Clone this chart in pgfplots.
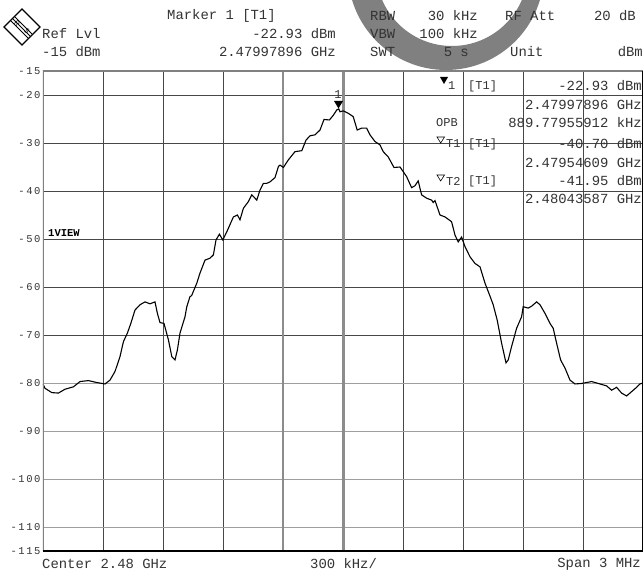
\documentclass[border=0pt]{standalone}
\usepackage{fontspec}
\setmainfont{Liberation Mono}
\newfontfamily\tickfont[LetterSpace=15]{Liberation Mono}
\usepackage{pgfplots}
\pgfplotsset{compat=1.18}
\newcommand\hdr{\fontsize{13.9}{14}\selectfont}
\newcommand\sml{\fontsize{12}{12}\selectfont}
\definecolor{txt}{gray}{0.2}

% trace: offset from 2.48 GHz in kHz, level in dBm
\pgfplotstableread{
f lvl
-1500 -80.2
-1490 -81.1
-1456 -82.0
-1423 -82.1
-1390 -81.3
-1348 -80.8
-1315 -79.7
-1273 -79.5
-1231 -79.9
-1190 -80.2
-1165 -79.4
-1140 -77.6
-1115 -74.5
-1098 -71.4
-1078 -69.6
-1061 -67.6
-1040 -64.8
-1015 -63.7
-990 -63.1
-965 -63.5
-940 -63.1
-928 -65.5
-915 -67.4
-895 -67.6
-873 -71.0
-856 -74.5
-840 -75.2
-828 -73.1
-815 -69.6
-790 -66.2
-781 -64.1
-765 -62.0
-757 -61.8
-731 -59.2
-715 -57.1
-690 -54.4
-665 -54.0
-648 -53.3
-635 -50.2
-618 -49.0
-601 -50.2
-581 -48.5
-548 -45.4
-528 -45.0
-515 -46.0
-498 -43.6
-473 -42.2
-456 -40.8
-431 -41.9
-415 -39.8
-398 -38.4
-381 -38.4
-365 -38.1
-340 -37.2
-323 -34.9
-315 -34.6
-298 -35.1
-273 -33.5
-240 -31.8
-206 -31.6
-185 -29.4
-165 -28.5
-140 -28.3
-115 -27.3
-95 -25.1
-68 -25.2
-48 -24.2
-31 -23.1
-21 -22.9
-15 -23.5
2 -23.3
26 -23.8
51 -24.5
71 -27.3
93 -26.9
118 -26.9
135 -28.3
160 -29.7
185 -30.4
201 -31.8
226 -32.9
255 -35.1
285 -35.0
318 -37.0
343 -39.3
360 -38.9
376 -37.9
393 -40.8
418 -41.5
443 -41.9
451 -42.4
460 -42.0
485 -45.0
510 -45.4
543 -46.4
560 -49.2
576 -50.6
593 -49.6
610 -51.6
635 -53.7
660 -55.1
685 -55.8
710 -59.2
735 -61.9
751 -63.7
771 -66.9
793 -71.7
815 -75.8
826 -75.2
843 -72.4
868 -68.6
893 -66.2
901 -64.1
926 -64.4
943 -64.0
968 -63.1
985 -63.7
1010 -65.5
1035 -67.6
1051 -68.6
1068 -71.7
1088 -75.2
1110 -76.9
1135 -79.4
1160 -80.2
1193 -80.1
1243 -79.7
1285 -80.2
1318 -80.6
1343 -81.5
1368 -80.9
1393 -82.1
1418 -82.7
1443 -81.8
1468 -80.9
1485 -80.2
1500 -80.0
}\trace

\begin{document}
\begin{tikzpicture}
\useasboundingbox (0,0) rectangle (643pt,574pt);
% watermark ring and header, in pixel coordinates from the top left
\begin{scope}[x=1pt,y=-1pt,shift={(0pt,574pt)}]
\fill[black!50, even odd rule] (446,-28) circle[radius=98pt] (452,-30) circle[radius=76pt];
\begin{scope}[every node/.style={inner sep=0pt, text=txt, font=\hdr}]
\node[anchor=west] at (167,16) {Marker 1 [T1]};
\node[anchor=west] at (370,16) {RBW};
\node[anchor=east] at (478,16) {30 kHz};
\node[anchor=west] at (505,16) {RF Att};
\node[anchor=east] at (636,16) {20 dB};
\node[anchor=west] at (42,34) {Ref Lvl};
\node[anchor=east] at (336,34) {-22.93 dBm};
\node[anchor=west] at (370,34) {VBW};
\node[anchor=east] at (478,34) {100 kHz};
\node[anchor=west] at (42,52) {-15 dBm};
\node[anchor=east] at (336,52) {2.47997896 GHz};
\node[anchor=west] at (370,52) {SWT};
\node[anchor=east] at (469,52) {5 s};
\node[anchor=west] at (510,52) {Unit};
\node[anchor=east] at (643,52) {dBm};
\node[anchor=west] at (42,564) {Center 2.48 GHz};
\node[anchor=west] at (310,564) {300 kHz/};
\node[anchor=east] at (641,564) {Span 3 MHz};
\end{scope}
% R&S logo
\draw[line width=1.4pt] (22,9) -- (40,27) -- (22,45) -- (4,27) -- cycle;
\draw[line width=0.9pt] (11,21) -- (28,38) (13,19) -- (30,36) (15,17) -- (32,34);
\node[inner sep=0pt, font=\sffamily\fontsize{7}{7}\selectfont, rotate=-45] at (17,23) {R};
\node[inner sep=0pt, font=\sffamily\fontsize{7}{7}\selectfont, rotate=-45] at (27,31) {S};
\end{scope}

\begin{axis}[
  at={(43pt,23pt)}, anchor=south west,
  scale only axis, width=600pt, height=480pt,
  xmin=-1500, xmax=1500, ymin=-115, ymax=-15,
  xtick={-1200,-900,...,1200}, xticklabels={},
  ytick={-115,-70,-60,-50,-40,-30,-20,-15},
  extra y ticks={-110,-100,-90,-80},
  extra y tick style={major grid style={draw=black!38, line width=0.9pt}},
  grid=major,
  major grid style={draw=black!72, line width=0.8pt},
  axis line style={draw=none},
  tick style={draw=none},
  /pgf/number format/assume math mode=true,
  yticklabel style={font=\tickfont\fontsize{10.5}{11}\selectfont, text=txt, xshift=1pt},
]
\draw[black!45, line width=1.6pt] (axis cs:-300,-115) -- (axis cs:-300,-15);
\draw[black!45, line width=3pt] (axis cs:0,-115) -- (axis cs:0,-15);
\addplot[black, line width=1.1pt] table[x=f, y=lvl] {\trace};
\draw[black!50, line width=3pt] (rel axis cs:0,0) -- (rel axis cs:0,1) -- (rel axis cs:1,1);
\draw[black, line width=2.5pt] (rel axis cs:0,0) -- (rel axis cs:1,0) -- (rel axis cs:1,1);
\end{axis}

% markers and marker list, in pixel coordinates
\begin{scope}[x=1pt,y=-1pt,shift={(0pt,574pt)}]
\fill (334,101) -- (343,101) -- (338.5,108.5) -- cycle;
\node[inner sep=0pt, font=\sml, text=txt] at (338,95) {1};
\node[inner sep=0pt, anchor=west, font=\fontseries{b}\selectfont\fontsize{10.5}{11}\selectfont] at (48,233) {1VIEW};
\fill (440,77) -- (448,77) -- (444,84) -- cycle;
\draw[line width=0.6pt] (437,137) -- (444.5,137) -- (440.7,143) -- cycle;
\draw[line width=0.6pt] (437,175) -- (444.5,175) -- (440.7,181) -- cycle;
\begin{scope}[every node/.style={inner sep=0pt, text=txt}]
\node[anchor=west, font=\sml] at (448,86) {1};
\node[anchor=west, font=\sml] at (468,86) {[T1]};
\node[anchor=east, font=\hdr] at (642,86) {-22.93 dBm};
\node[anchor=east, font=\hdr] at (642,105) {2.47997896 GHz};
\node[anchor=west, font=\sml] at (436,123) {OPB};
\node[anchor=east, font=\hdr] at (642,123) {889.77955912 kHz};
\node[anchor=west, font=\sml] at (446,144) {T1};
\node[anchor=west, font=\sml] at (468,144) {[T1]};
\node[anchor=east, font=\hdr] at (642,144) {-40.70 dBm};
\node[anchor=east, font=\hdr] at (642,163) {2.47954609 GHz};
\node[anchor=west, font=\sml] at (446,181) {T2};
\node[anchor=west, font=\sml] at (468,181) {[T1]};
\node[anchor=east, font=\hdr] at (642,181) {-41.95 dBm};
\node[anchor=east, font=\hdr] at (642,199) {2.48043587 GHz};
\end{scope}
\end{scope}
\end{tikzpicture}
\end{document}
